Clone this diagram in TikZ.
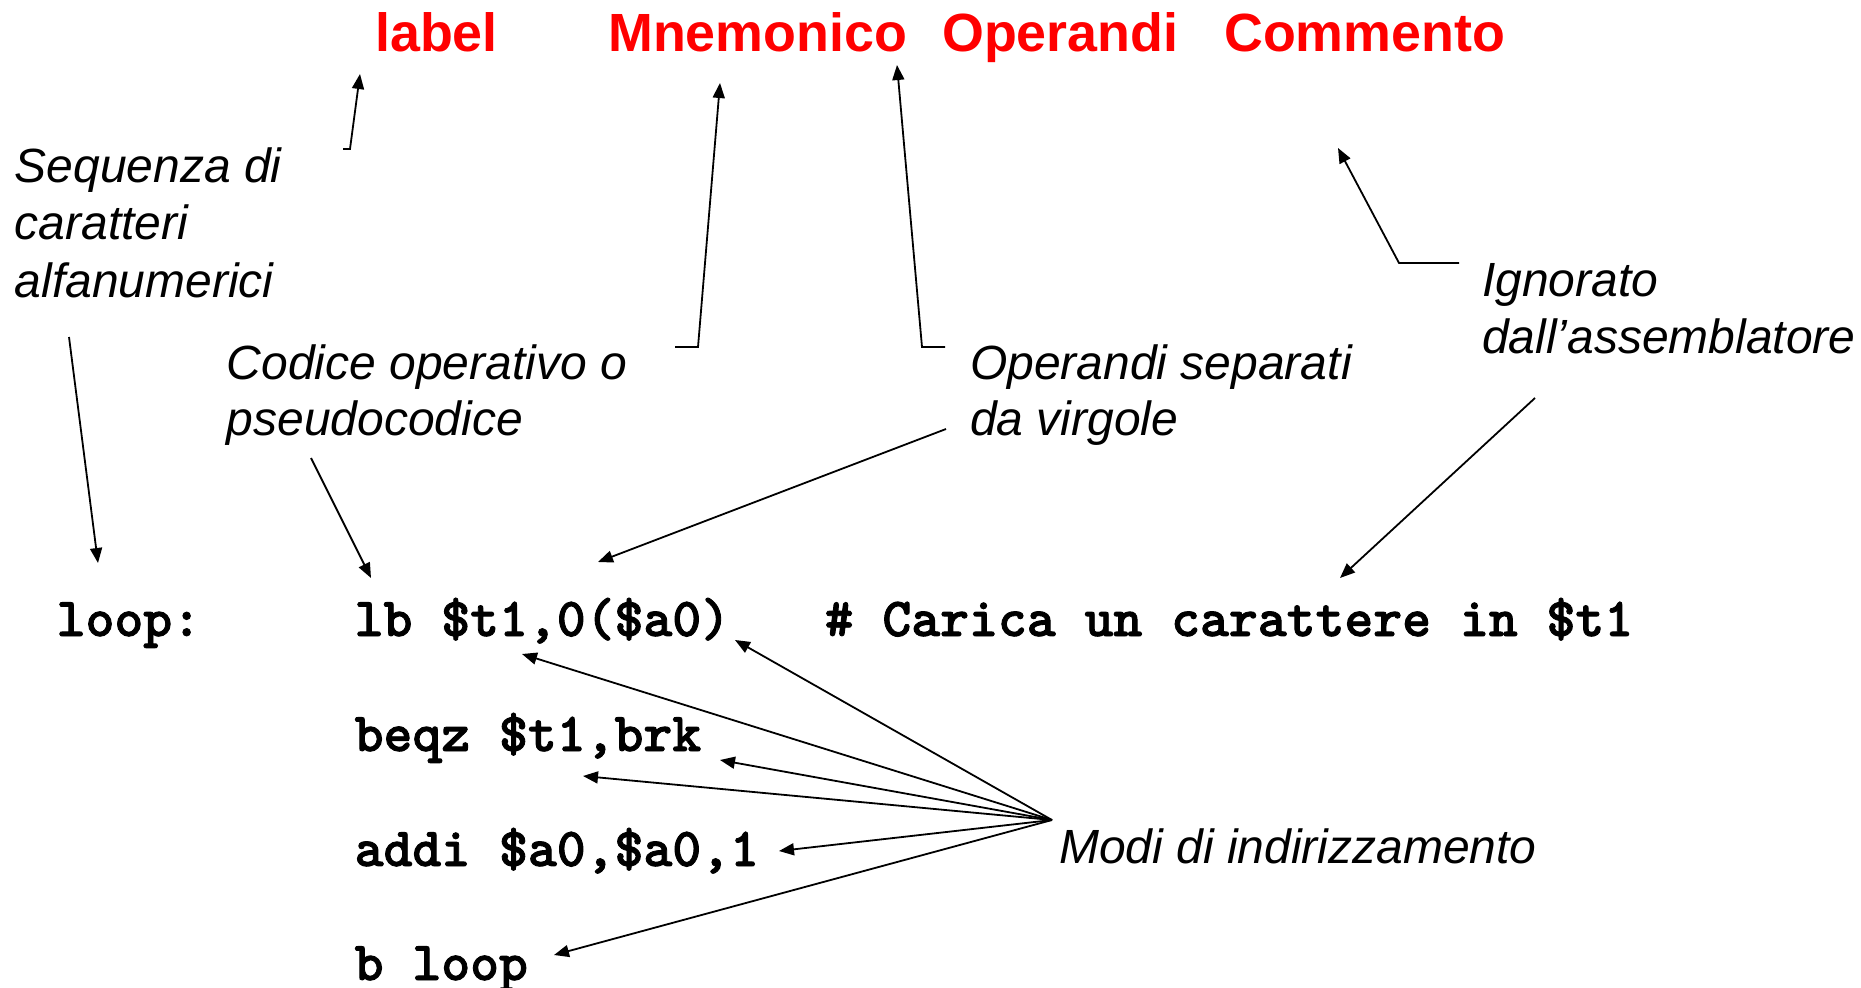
\documentclass[tikz,border=0pt]{standalone}
\usepackage{fontspec}
\setmainfont{Liberation Sans}
\newfontfamily\codefont{lmmonolt10-bold.otf}[FakeBold=1.6]
\usetikzlibrary{arrows.meta}
\definecolor{headred}{RGB}{255,0,0}

\begin{document}
\begin{tikzpicture}[x=1pt,y=-1pt,
  head/.style={anchor=base west, inner sep=0pt, text=headred,
    font=\fontsize{53.8}{60}\selectfont\bfseries},
  note/.style={anchor=base west, inner sep=0pt,
    font=\fontsize{48}{57}\selectfont\itshape},
  code/.style={anchor=base west, inner sep=0pt,
    font=\fontsize{55}{60}\selectfont\codefont},
  pointer/.style={line width=1.8pt, line join=miter,
    -{Triangle[length=15pt,width=12pt]}},
]
\fill[white] (0,0) rectangle (1861,988);
\useasboundingbox (0,0) rectangle (1861,988);

% column headings
\node[head] (hlabel) at (375,51) {label};
\node[head] (hmnem)  at (608,51) {Mnemonico};
\node[head] (hops)   at (942,51) {Operandi};
\node[head] (hcomm)  at (1224,51) {Commento};

% explanatory notes
\node[note] (seqA) at (14.5,182) {Sequenza di};
\node[note] (seqB) at (14.5,239.5) {caratteri};
\node[note] (seqC) at (14.5,297) {alfanumerici};

\node[note] (codA) at (226.5,379) {Codice operativo o};
\node[note] (codB) at (226.5,435) {pseudocodice};

\node[note] (opsA) at (970,379) {Operandi separati};
\node[note] (opsB) at (970,435) {da virgole};

\node[note] (ignA) at (1482,296) {Ignorato};
\node[note] (ignB) at (1482,353) {dall’assemblatore};

\node[note] (modi) at (1059,863) {Modi di indirizzamento};

% assembly source
\node[code] (loop)  at (56.5,636)  {loop:};
\node[code] (lb)    at (354.5,636) {lb \$t1,0(\$a0)};
\node[code] (cmt)   at (824.5,636) {\# Carica un carattere in \$t1};
\node[code] (beqz)  at (354.5,751) {beqz \$t1,brk};
\node[code] (addi)  at (354.5,866) {addi \$a0,\$a0,1};
\node[code] (bloop) at (354.5,980) {b loop};

% arrows from the notes up to the headings
\coordinate (lblA) at (343,149);  \coordinate (lblB) at (350,149);
\coordinate (lblT) at (360,74);
\draw[pointer] (lblA) -- (lblB) -- (lblT);

\coordinate (mnA) at (675,347);  \coordinate (mnB) at (698,347);
\coordinate (mnT) at (720,83);
\draw[pointer] (mnA) -- (mnB) -- (mnT);

\coordinate (opA) at (945,347);  \coordinate (opB) at (922,347);
\coordinate (opT) at (897,65);
\draw[pointer] (opA) -- (opB) -- (opT);

\coordinate (cmA) at (1459,263);  \coordinate (cmB) at (1399,263);
\coordinate (cmT) at (1338,148);
\draw[pointer] (cmA) -- (cmB) -- (cmT);

% arrows from the notes down to the source line
\coordinate (seqS) at (69,337);   \coordinate (seqT) at (98,563);
\draw[pointer] (seqS) -- (seqT);
\coordinate (codS) at (311,458);  \coordinate (codT) at (371,578);
\draw[pointer] (codS) -- (codT);
\coordinate (opsS) at (946,429);  \coordinate (opsT) at (598,562);
\draw[pointer] (opsS) -- (opsT);
\coordinate (ignS) at (1535,398); \coordinate (ignT) at (1340,578);
\draw[pointer] (ignS) -- (ignT);

% addressing modes fan
\coordinate (hub) at (1052,820);
\coordinate (mA) at (735,640);
\coordinate (mB) at (522,654);
\coordinate (mC) at (720,760);
\coordinate (mD) at (583,776);
\coordinate (mE) at (779,851);
\coordinate (mF) at (554,955);
\foreach \t in {mA,mB,mC,mD,mE,mF}
  \draw[pointer] (hub) -- (\t);
\end{tikzpicture}
\end{document}
